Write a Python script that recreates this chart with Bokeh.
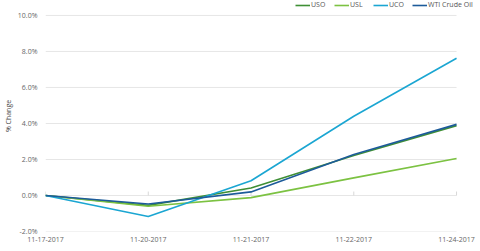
from bokeh.plotting import figure
from bokeh.models import FixedTicker, Legend, LegendItem, Range1d
from bokeh.embed import file_html
from bokeh.resources import INLINE

dates = ["11-17-2017", "11-20-2017", "11-21-2017", "11-22-2017", "11-24-2017"]
uso = [0.0, -0.55, 0.42, 2.22, 3.88]
usl = [0.0, -0.60, -0.12, 0.98, 2.05]
uco = [0.0, -1.17, 0.82, 4.40, 7.62]
wti = [0.0, -0.47, 0.20, 2.28, 3.95]
y_ticks = [-2, 0, 2, 4, 6, 8, 10]

series = [("USO", uso, "#3f8f35"), ("USL", usl, "#7cc242"),
          ("UCO", uco, "#1ba6d2"), ("WTI Crude Oil", wti, "#1d5b9a")]

FONT = "Open Sans"
xs = list(range(len(dates)))
last = len(dates) - 1

# frame extends above the 10% line and right of the last point to hold the legend
p = figure(width=480, height=251, output_backend="svg", toolbar_location=None,
           x_range=Range1d(0, last * 430 / 412), y_range=Range1d(-2, 10.83),
           min_border_left=44, min_border_right=6, min_border_top=0, min_border_bottom=20)
p.outline_line_color = None
p.background_fill_color = "white"
p.xgrid.grid_line_color = None
p.ygrid.grid_line_color = None

# horizontal gridlines limited to the category span
p.segment(x0=[0] * len(y_ticks), x1=[last] * len(y_ticks), y0=y_ticks, y1=y_ticks,
          line_color="#e6e6e6", line_width=1)
# small category tick marks on the zero line
p.segment(x0=xs, x1=xs, y0=[0] * len(xs), y1=[0.22] * len(xs),
          line_color="#d8d8d8", line_width=1)

items = []
for name, vals, col in series:
    r = p.line(xs, vals, line_color=col, line_width=1.6)
    items.append(LegendItem(label=name, renderers=[r]))

p.xaxis.ticker = FixedTicker(ticks=xs)
p.xaxis.major_label_overrides = {i: d for i, d in enumerate(dates)}
p.yaxis.ticker = FixedTicker(ticks=y_ticks)
p.yaxis.major_label_overrides = {v: f"{v:.1f}%" for v in y_ticks}
p.yaxis.axis_label = "% Change"

for ax in (p.xaxis[0], p.yaxis[0]):
    ax.axis_line_color = None
    ax.major_tick_line_color = None
    ax.minor_tick_line_color = None
    ax.major_tick_in = 0
    ax.major_tick_out = 0
    ax.major_label_text_font = FONT
    ax.major_label_text_font_size = "7px"
    ax.major_label_text_color = "#666666"
p.yaxis.axis_label_text_font = FONT
p.yaxis.axis_label_text_font_size = "7px"
p.yaxis.axis_label_text_font_style = "normal"
p.yaxis.axis_label_text_color = "#444444"
p.yaxis.axis_label_standoff = 2
p.yaxis.major_label_standoff = 8
p.xaxis.major_label_standoff = 5

legend = Legend(items=items, orientation="horizontal", location=(250, 222),
                label_text_font=FONT, label_text_font_size="7px",
                label_text_color="#555555", glyph_width=15, glyph_height=8,
                label_standoff=1, spacing=3, padding=0, margin=0,
                label_height=8, background_fill_alpha=0, border_line_color=None)
p.add_layout(legend, "center")

open("out.html", "w").write(file_html(p, INLINE))
